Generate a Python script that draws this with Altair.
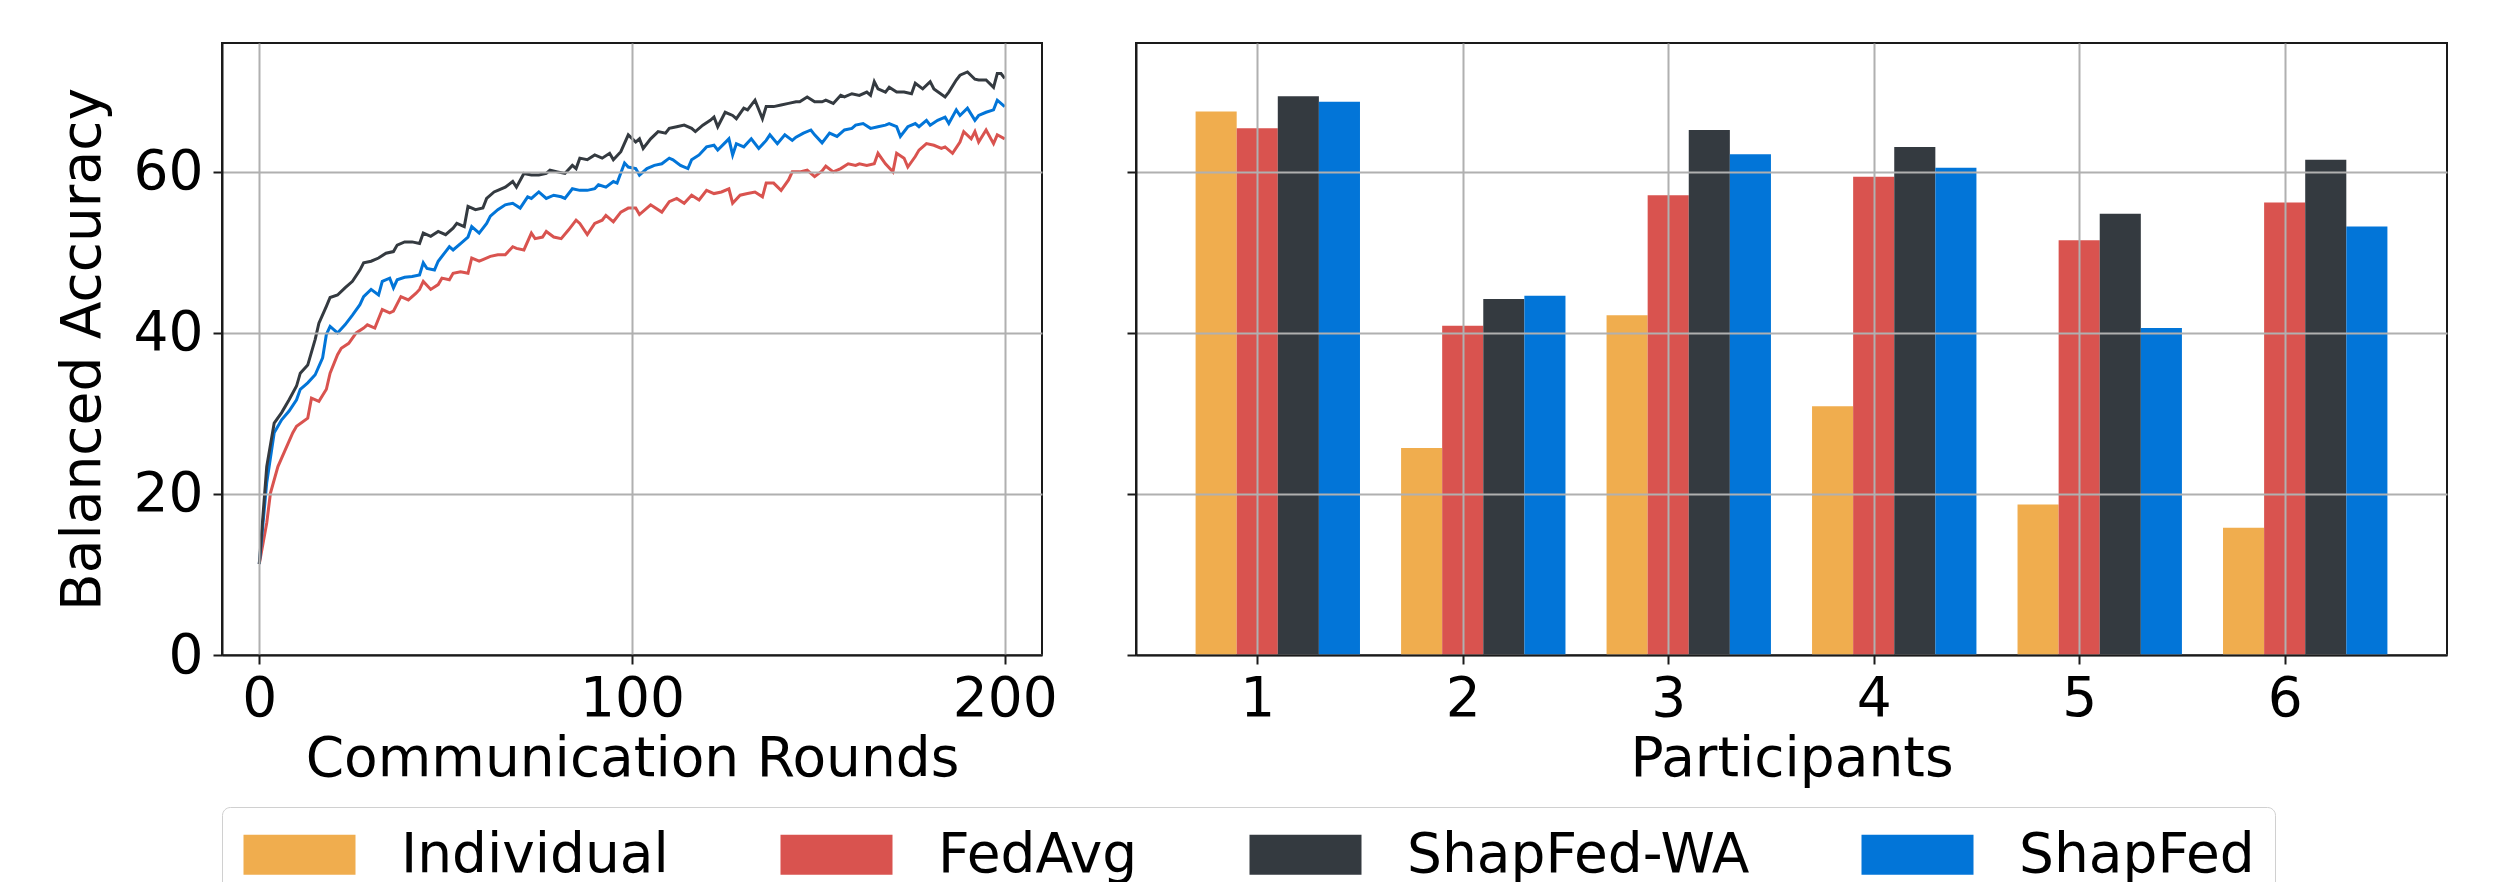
import altair as alt
import pandas as pd

# ---------------- data ----------------
methods = ["Individual", "FedAvg", "ShapFed-WA", "ShapFed"]
method_colors = ["#f0ad4e", "#d9534f", "#343a40", "#0275d8"]

participants = [1, 2, 3, 4, 5, 6]
individual = [67.5, 25.7, 42.2, 30.9, 18.7, 15.8]
fedavg = [65.4, 40.9, 57.1, 59.4, 51.5, 56.2]
shapfed_wa = [69.4, 44.2, 65.2, 63.1, 54.8, 61.5]
shapfed = [68.7, 44.6, 62.2, 60.5, 40.6, 53.2]

wa_rounds = [0, 2, 4, 6, 8, 10, 11, 13, 15, 16, 18, 19, 21, 23, 25, 27, 28, 30, 32, 34,
             36, 37, 39, 41, 43, 44, 46, 48, 50, 52, 53, 55, 56, 58, 60, 61, 63, 64, 66, 68,
             69, 71, 73, 75, 77, 78, 80, 82, 84, 85, 86, 88, 90, 92, 94, 95, 97, 99, 101, 102,
             103, 105, 107, 109, 110, 112, 114, 116, 117, 119, 121, 122, 123, 125, 127, 128, 130, 131, 133, 135,
             136, 138, 140, 142, 144, 145, 147, 149, 151, 152, 154, 156, 157, 159, 161, 163, 164, 165, 166, 168,
             169, 171, 173, 175, 176, 178, 180, 181, 184, 185, 187, 188, 190, 192, 193, 195, 197, 198, 199, 200]
wa_acc = [11.3, 23.4, 28.8, 30.1, 31.7, 33.4, 35.0, 36.0, 39.2, 41.2, 43.3, 44.4, 44.7, 45.6, 46.4, 47.8, 48.7, 48.9, 49.3, 49.9,
          50.1, 50.9, 51.3, 51.3, 51.1, 52.4, 52.0, 52.6, 52.2, 53.0, 53.6, 53.2, 55.7, 55.3, 55.5, 56.7, 57.5, 57.7, 58.1, 58.8,
          58.1, 59.8, 59.6, 59.6, 59.8, 60.2, 60.0, 59.8, 60.8, 60.4, 61.7, 61.5, 62.1, 61.7, 62.3, 61.5, 62.5, 64.6, 63.7, 64.1,
          62.9, 64.1, 65.0, 64.8, 65.4, 65.6, 65.8, 65.4, 65.0, 65.8, 66.4, 66.8, 65.6, 67.4, 67.0, 66.6, 67.9, 67.7, 68.9, 66.6,
          68.1, 68.1, 68.3, 68.5, 68.7, 68.7, 69.3, 68.7, 68.7, 68.9, 68.5, 69.5, 69.3, 69.7, 69.5, 69.9, 69.5, 71.2, 70.3, 69.9,
          70.5, 69.9, 69.9, 69.7, 71.0, 70.3, 71.2, 70.3, 69.3, 69.9, 71.4, 72.0, 72.4, 71.5, 71.4, 71.4, 70.5, 72.2, 72.2, 71.6]

sf_rounds = [0, 2, 4, 6, 8, 10, 11, 13, 15, 17, 18, 19, 21, 23, 25, 27, 28, 30, 32, 33,
             35, 36, 37, 39, 41, 43, 44, 45, 47, 48, 50, 51, 52, 54, 56, 57, 59, 61, 62, 64,
             66, 68, 70, 72, 73, 75, 77, 79, 81, 82, 84, 86, 88, 90, 91, 93, 95, 96, 98, 99,
             101, 102, 104, 106, 108, 110, 111, 113, 115, 116, 118, 120, 122, 123, 126, 127, 128, 130, 132, 134,
             136, 137, 139, 141, 143, 144, 146, 148, 149, 151, 153, 155, 157, 159, 160, 162, 164, 166, 168, 169,
             171, 172, 174, 176, 177, 179, 180, 182, 184, 185, 187, 188, 190, 192, 193, 195, 197, 198, 200]
sf_acc = [11.3, 21.4, 27.6, 29.2, 30.3, 31.7, 33.0, 33.8, 34.8, 36.9, 39.8, 40.8, 40.0, 41.0, 42.2, 43.5, 44.5, 45.4, 44.7, 46.4,
          46.8, 45.6, 46.6, 46.9, 47.0, 47.2, 48.7, 48.0, 47.8, 48.9, 50.1, 50.7, 50.3, 51.1, 51.9, 53.2, 52.4, 53.6, 54.5, 55.3,
          55.9, 56.1, 55.5, 56.9, 56.7, 57.5, 56.7, 57.1, 56.9, 56.7, 57.9, 57.7, 57.7, 57.9, 58.4, 58.1, 58.8, 58.6, 61.1, 60.6,
          60.4, 59.6, 60.4, 60.8, 61.0, 61.7, 61.5, 60.8, 60.4, 61.5, 62.1, 63.1, 63.3, 62.7, 64.1, 62.1, 63.5, 63.1, 64.1, 62.9,
          63.9, 64.6, 63.5, 64.6, 63.9, 64.3, 64.8, 65.2, 64.6, 63.6, 64.8, 64.4, 65.2, 65.4, 65.8, 66.0, 65.4, 65.6, 65.8, 66.0,
          65.6, 64.4, 65.6, 66.0, 65.6, 66.4, 65.8, 66.4, 66.8, 66.0, 67.7, 67.0, 67.9, 66.4, 67.0, 67.4, 67.7, 68.9, 68.1]

fa_rounds = [0, 2, 3, 5, 7, 9, 10, 13, 14, 16, 18, 19, 21, 22, 24, 26, 28, 29, 31, 33,
             35, 36, 38, 40, 42, 43, 44, 46, 48, 49, 51, 52, 54, 56, 57, 59, 60, 62, 64, 66,
             68, 69, 71, 73, 74, 76, 77, 79, 81, 83, 85, 86, 88, 90, 92, 93, 95, 97, 99, 101,
             102, 105, 108, 110, 112, 114, 116, 118, 120, 122, 124, 126, 127, 129, 131, 133, 135, 136, 138, 140,
             142, 143, 145, 147, 149, 151, 152, 154, 156, 158, 160, 161, 163, 165, 166, 168, 170, 171, 173, 174,
             176, 177, 179, 181, 183, 184, 186, 188, 189, 191, 192, 193, 195, 197, 198, 200]
fa_acc = [11.3, 16.4, 20.1, 23.4, 25.5, 27.6, 28.4, 29.4, 31.9, 31.5, 33.0, 35.0, 37.3, 38.1, 38.7, 40.0, 40.6, 41.0, 40.6, 42.9,
          42.5, 42.7, 44.5, 44.1, 44.9, 45.4, 46.4, 45.4, 46.0, 46.8, 46.6, 47.4, 47.6, 47.4, 49.3, 48.9, 49.1, 49.5, 49.7, 49.7,
          50.7, 50.5, 50.3, 52.4, 51.7, 51.9, 52.6, 51.9, 51.7, 52.8, 54.0, 53.6, 52.2, 53.6, 54.0, 54.6, 53.8, 55.0, 55.5, 55.5,
          54.7, 55.9, 55.0, 56.3, 56.7, 56.1, 57.1, 56.5, 57.7, 57.3, 57.5, 57.9, 56.1, 57.1, 57.3, 57.5, 56.9, 58.6, 58.6, 57.7,
          59.0, 60.0, 60.0, 60.2, 59.4, 60.1, 60.7, 60.0, 60.4, 61.0, 60.8, 61.0, 60.8, 61.0, 62.3, 61.0, 60.0, 62.3, 61.7, 60.6,
          61.9, 62.7, 63.5, 63.3, 62.9, 63.1, 62.3, 63.7, 65.0, 64.1, 65.0, 63.7, 65.2, 63.5, 64.6, 64.1]

x_round_ticks = [0, 100, 200]
y_ticks = [0, 20, 40, 60]

# ---------------- tables ----------------
line_rows = []
for name, rr, vv in [("FedAvg", fa_rounds, fa_acc), ("ShapFed", sf_rounds, sf_acc), ("ShapFed-WA", wa_rounds, wa_acc)]:
    for r, v in zip(rr, vv):
        line_rows.append({"method": name, "round": r, "acc": v})
line_df = pd.DataFrame(line_rows)

bar_rows = []
for name, vals in zip(methods, [individual, fedavg, shapfed_wa, shapfed]):
    for p, v in zip(participants, vals):
        bar_rows.append({"method": name, "participant": p, "acc": v})
bar_df = pd.DataFrame(bar_rows)

FONT = "DejaVu Sans"
FS = 55
y_scale = alt.Scale(domain=[0, 76], nice=False, zero=True)

# the line panel shows the three federated methods only
line_methods = methods[1:]
line_colors = method_colors[1:]

lines = alt.Chart(line_df).mark_line(strokeWidth=3).encode(
    x=alt.X("round:Q", scale=alt.Scale(domain=[-10, 210], nice=False, zero=False),
            axis=alt.Axis(values=x_round_ticks, title="Communication Rounds", format="d",
                          labelPadding=8, titlePadding=6, zindex=1)),
    y=alt.Y("acc:Q", scale=y_scale,
            axis=alt.Axis(values=y_ticks, title="Balanced Accuracy", labelPadding=10,
                          titlePadding=22, zindex=1)),
    stroke=alt.Stroke("method:N", scale=alt.Scale(domain=line_methods, range=line_colors), legend=None),
).properties(width=820, height=612)

method_list = "[" + ",".join("'" + m + "'" for m in methods) + "]"
bars = alt.Chart(bar_df).transform_calculate(
    k="indexof(" + method_list + ", datum.method)"
).transform_calculate(
    xa="datum.participant + (datum.k - 1) * 0.2 - 0.1",
    xb="datum.participant + (datum.k - 1) * 0.2 + 0.1",
).mark_bar(strokeWidth=0).encode(
    x=alt.X("xa:Q", scale=alt.Scale(domain=[0.41, 6.79], nice=False, zero=False),
            axis=alt.Axis(values=participants, title="Participants", format="d",
                          labelPadding=8, titlePadding=6, zindex=1)),
    x2="xb:Q",
    y=alt.Y("acc:Q", scale=y_scale,
            axis=alt.Axis(values=y_ticks, labels=False, title=None, zindex=1)),
    y2=alt.datum(0),
    color=alt.Color("method:N", scale=alt.Scale(domain=methods, range=method_colors),
                    legend=alt.Legend(title=None, orient="none", legendX=0, legendY=764,
                                      direction="horizontal", columns=4,
                                      symbolType="M-1.3,-1H4.3V1H-1.3Z", symbolSize=1600,
                                      symbolStrokeWidth=0, symbolOpacity=1,
                                      labelFont=FONT, labelFontSize=FS, labelColor="black",
                                      labelOffset=104, labelLimit=2000, columnPadding=110,
                                      padding=20, strokeColor="#d0d0d0", fillColor="white",
                                      cornerRadius=8)),
).properties(width=1311, height=612)

chart = alt.hconcat(lines, bars, spacing=94, bounds="flush").properties(
    padding={"left": 46, "top": 34, "right": 10, "bottom": 200}
).configure_view(
    stroke="#1a1a1a", strokeWidth=2
).configure_axis(
    labelFont=FONT, titleFont=FONT, labelFontSize=FS, titleFontSize=FS,
    titleFontWeight="normal", labelColor="black", titleColor="black",
    domainColor="#1a1a1a", domainWidth=2, tickColor="#1a1a1a", tickWidth=2, tickSize=9,
    gridColor="#b0b0b0", gridWidth=2
)

chart.save("out.html", embed_options={"renderer": "svg", "actions": False})
